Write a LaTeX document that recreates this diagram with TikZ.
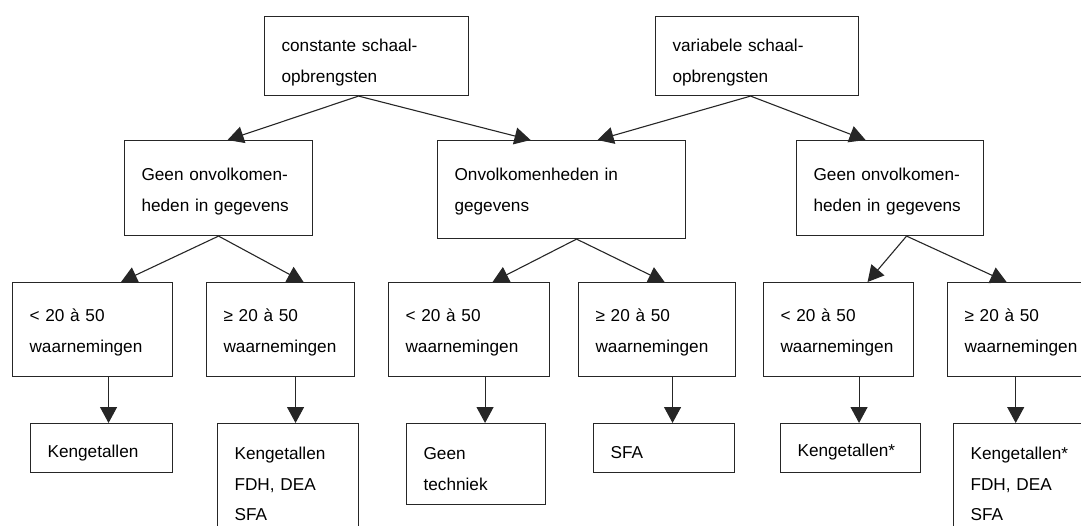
\documentclass[tikz,border=0pt]{standalone}
\usepackage{fontspec}
\setmainfont{Liberation Sans}
\usetikzlibrary{arrows.meta}
\begin{document}
\begin{tikzpicture}[x=1pt,y=-1pt,
  box/.style={draw=black!85, line width=1.1pt, inner xsep=17pt, inner ysep=0pt,
    align=left, anchor=north west,
    font={\fontsize{17.2}{30.5}\selectfont\hyphenpenalty 10000\relax}},
  arr/.style={draw=black!85, line width=1.1pt, -{Triangle[width=17pt,length=16pt]}}]
\useasboundingbox (0,0) rectangle (1081,526);
\clip (0,0) rectangle (1081,526);
% top row
\node[box, text width=170pt, text height=35pt, text depth=44pt] (B1) at (264,16) {constante schaal-\\opbrengsten};
\node[box, text width=169pt, text height=35pt, text depth=44pt] (B2) at (655,16) {variabele schaal-\\opbrengsten};
% second row
\node[box, text width=154pt, text height=40pt, text depth=55pt] (C1) at (124,140) {Geen onvolkomen-\\heden in gegevens};
\node[box, text width=214pt, text height=40pt, text depth=58pt] (C2) at (437,140) {Onvolkomenheden in\\gegevens};
\node[box, text width=153pt, text height=40pt, text depth=55pt] (C3) at (796,140) {Geen onvolkomen-\\heden in gegevens};
% third row
\node[box, text width=126pt, text height=39pt, text depth=55pt] (D1) at (12,282) {< 20 à 50\\waarnemingen};
\node[box, text width=114pt, text height=39pt, text depth=55pt] (D2) at (206,282) {≥ 20 à 50\\waarnemingen};
\node[box, text width=127pt, text height=39pt, text depth=55pt] (D3) at (388,282) {< 20 à 50\\waarnemingen};
\node[box, text width=123pt, text height=39pt, text depth=55pt] (D4) at (578,282) {≥ 20 à 50\\waarnemingen};
\node[box, text width=116pt, text height=39pt, text depth=55pt] (D5) at (763,282) {< 20 à 50\\waarnemingen};
\node[box, text width=123pt, text height=39pt, text depth=55pt] (D6) at (947,282) {≥ 20 à 50\\waarnemingen};
% bottom row
\node[box, text width=108pt, text height=34pt, text depth=15pt] (E1) at (30,423) {Kengetallen};
\node[box, text width=107pt, text height=36pt, text depth=94pt] (E2) at (217,423) {Kengetallen\\FDH, DEA\\SFA};
\node[box, text width=105pt, text height=36pt, text depth=45pt] (E3) at (406,423) {Geen\\techniek};
\node[box, text width=107pt, text height=35pt, text depth=14pt] (E4) at (593,423) {SFA};
\node[box, text width=106pt, text height=33pt, text depth=16pt] (E5) at (780,423) {Kengetallen*};
\node[box, text width=116pt, text height=36pt, text depth=94pt] (E6) at (953,423) {Kengetallen*\\FDH, DEA\\SFA};
% connectors top -> second
\draw[arr] ([xshift=-8pt]B1.south) -- ([xshift=9pt]C1.north);
\draw[arr] ([xshift=-8pt]B1.south) -- ([xshift=-31pt]C2.north);
\draw[arr] ([xshift=-6.5pt]B2.south) -- ([xshift=36pt]C2.north);
\draw[arr] ([xshift=-6.5pt]B2.south) -- ([xshift=-24.5pt]C3.north);
% second -> third
\draw[arr] (C1.south) -- ([xshift=28.5pt]D1.north);
\draw[arr] (C1.south) -- ([xshift=23pt]D2.north);
\draw[arr] ([xshift=15pt]C2.south) -- ([xshift=23.5pt]D3.north);
\draw[arr] ([xshift=15pt]C2.south) -- ([xshift=7.5pt]D4.north);
\draw[arr] ([xshift=16.5pt]C3.south) -- ([xshift=29pt]D5.north);
\draw[arr] ([xshift=16.5pt]C3.south) -- ([xshift=59.6pt]D6.north west);
% third -> bottom
\draw[arr] ([xshift=16pt]D1.south) -- ([xshift=16pt]D1.south |- E1.north);
\draw[arr] ([xshift=15pt]D2.south) -- ([xshift=15pt]D2.south |- E2.north);
\draw[arr] ([xshift=16pt]D3.south) -- ([xshift=16pt]D3.south |- E3.north);
\draw[arr] ([xshift=15.5pt]D4.south) -- ([xshift=15.5pt]D4.south |- E4.north);
\draw[arr] ([xshift=20.5pt]D5.south) -- ([xshift=20.5pt]D5.south |- E5.north);
\draw[arr] ([xshift=68.7pt]D6.south west) -- ([xshift=68.7pt]D6.south west |- E6.north);
\end{tikzpicture}
\end{document}
